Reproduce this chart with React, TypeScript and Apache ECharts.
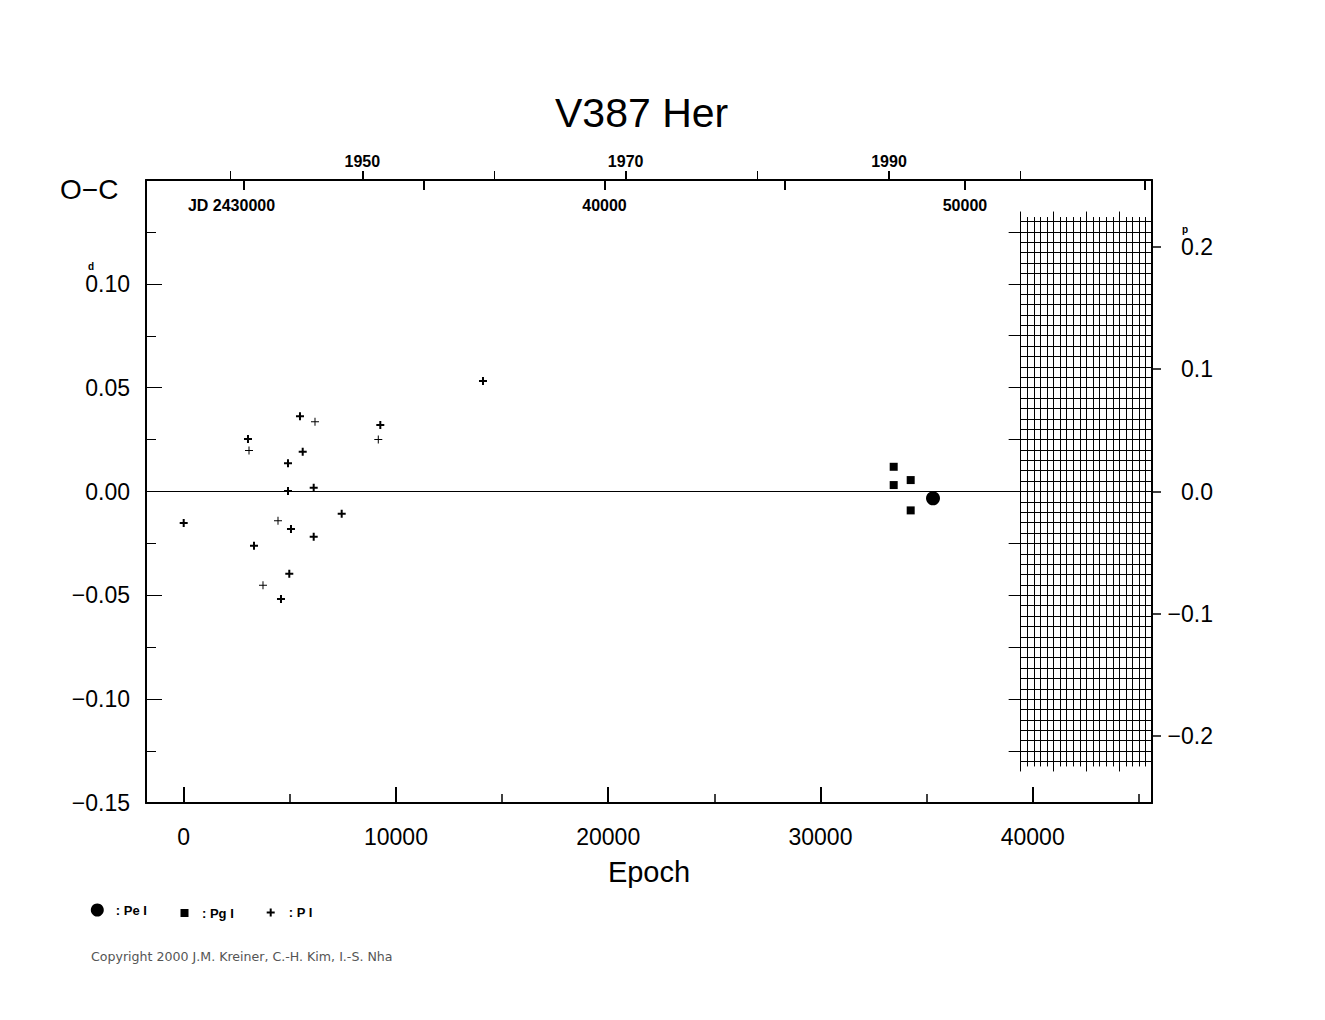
import React, { useEffect, useRef } from 'react';
import * as echarts from 'echarts';

// ---------------- data ----------------
const peEpochs = [35303];
const peOC = [-0.0033];

const pgEpochs = [33451, 33451, 34252, 34252];
const pgOC = [0.0119, 0.0031, 0.0055, -0.0091];

const pBoldEpochs = [0, 3029, 3312, 4584, 4914, 4914, 5055, 4975, 5479, 5607, 6125, 6125, 7444, 9263, 14101];
const pBoldOC = [-0.0152, 0.0253, -0.0261, -0.0518, 0.0136, 0.0003, -0.0181, -0.0396, 0.0362, 0.0192, 0.0018, -0.0218, -0.0107, 0.032, 0.0532];

const pThinEpochs = [3077, 3736, 4443, 6186, 9168];
const pThinOC = [0.0198, -0.0452, -0.0141, 0.0336, 0.0251];

// tick / label values
const epochMajor = [0, 10000, 20000, 30000, 40000];
const epochMinor = [5000, 15000, 25000, 35000, 45000];
const ocLabels = [-0.15, -0.1, -0.05, 0, 0.05, 0.1];
const jdTicks = [30000, 35000, 40000, 45000, 50000, 55000];
const jdLabels = [30000, 40000, 50000];
const yearMajor = [1950, 1970, 1990];
const yearMinor = [1940, 1960, 1980, 2000];
const phaseTicks = [-0.2, -0.1, 0, 0.1, 0.2];
const meshLong = [-0.125, -0.1, -0.075, -0.05, -0.025, 0, 0.025, 0.05, 0.075, 0.1, 0.125];

// ephemeris / axis ranges
const PERIOD = 0.5888; // days
const JD_AT_E0 = 28327; // JD - 2400000 at epoch 0
const EPOCH_MIN = -1776;
const EPOCH_MAX = 45621;
const OC_MIN = -0.15;
const OC_MAX = 0.15;
const MESH_YEAR_START = 2000;
const MESH_YEAR_END = 2010;
const MESH_OC = 0.13;

// layout
const GRID = { left: 146, top: 180, width: 1006, height: 623 };
const FONT = "'Liberation Sans', Arial, sans-serif";

const toJD = (e: number) => JD_AT_E0 + e * PERIOD;
const toYear = (jd: number) => 2000 + (jd - 51545) / 365.25;
const yearToEpoch = (y: number) => ((y - 2000) * 365.25 + 51545 - JD_AT_E0) / PERIOD;
const xPx = (e: number) => GRID.left + ((e - EPOCH_MIN) / (EPOCH_MAX - EPOCH_MIN)) * GRID.width;
const yPx = (v: number) => GRID.top + ((OC_MAX - v) / (OC_MAX - OC_MIN)) * GRID.height;

const fmt = (v: number, d: number) => {
  const a = Math.abs(v) < 1e-9 ? 0 : v;
  const s = Math.abs(a).toFixed(d);
  return a < 0 ? '\u2212' + s : s;
};

const BLACK = '#000';
const PLUS_BOLD = 'path://M3,0H5V3H8V5H5V8H3V5H0V3H3Z';
const PLUS_THIN = 'path://M3.5,0H4.5V3.5H8V4.5H4.5V8H3.5V4.5H0V3.5H3.5Z';
const SQUARE = 'path://M0,0H8V8H0Z';

const meshLeft = xPx(yearToEpoch(MESH_YEAR_START));
const meshRight = xPx(yearToEpoch(MESH_YEAR_END));
const meshTop = yPx(MESH_OC);
const meshBottom = yPx(-MESH_OC);

const hidden = { show: false };
const tickStyle = (w: number) => ({ color: BLACK, width: w });

function buildOption(): any {
  const pairs = (xs: number[], ys: number[]) => xs.map((x, i) => [x, ys[i]]);
  const legendText = (pad: number) => ({
    fontFamily: FONT, fontWeight: 'bold', fontSize: 13, color: BLACK, padding: [0, 0, 0, pad],
  });
  const meshX = (position: string, interval: number, length: number, split: boolean) => ({
    type: 'value',
    gridIndex: 1,
    position,
    min: MESH_YEAR_START,
    max: MESH_YEAR_END,
    interval,
    axisLine: { show: false, onZero: false },
    axisTick: { show: true, inside: false, length, lineStyle: tickStyle(1) },
    axisLabel: hidden,
    splitLine: { show: split, lineStyle: { color: BLACK, width: 1 } },
  });
  const solid = { color: BLACK, opacity: 1 };

  return {
    animation: false,
    backgroundColor: '#fff',
    textStyle: { fontFamily: FONT },
    title: {
      text: 'V387 Her',
      left: 555,
      top: 92,
      padding: 0,
      textStyle: { fontFamily: FONT, fontSize: 41, fontWeight: 'normal', color: BLACK },
    },
    legend: [
      {
        data: [{ name: 'Pe I', icon: 'circle' }],
        left: 90.8, top: 903.5, itemWidth: 13, itemHeight: 13, padding: 0,
        selectedMode: false, formatter: ': {name}', textStyle: legendText(7),
      },
      {
        data: [{ name: 'Pg I', icon: SQUARE }],
        left: 180.5, top: 906.5, itemWidth: 8, itemHeight: 8, padding: 0,
        selectedMode: false, formatter: ': {name}', textStyle: legendText(8.5),
      },
      {
        data: [{ name: 'P I', icon: PLUS_BOLD }],
        left: 266.7, top: 906, itemWidth: 8, itemHeight: 8, padding: 0,
        selectedMode: false, formatter: ': {name}', textStyle: legendText(9),
      },
    ],
    grid: [
      { left: GRID.left, top: GRID.top, width: GRID.width, height: GRID.height, containLabel: false },
      { left: meshLeft, top: meshTop, width: meshRight - meshLeft, height: meshBottom - meshTop, containLabel: false },
    ],
    xAxis: [
      {
        type: 'value', gridIndex: 0, position: 'bottom', min: EPOCH_MIN, max: EPOCH_MAX,
        axisLine: { show: true, onZero: false, lineStyle: { color: BLACK, width: 2 } },
        axisTick: { show: true, inside: true, length: 16, customValues: epochMajor, lineStyle: tickStyle(2) },
        axisLabel: {
          show: true, customValues: epochMajor, margin: 22, fontFamily: FONT, fontSize: 23, color: BLACK,
          formatter: (v: number) => String(v),
        },
        splitLine: hidden,
        name: 'Epoch', nameLocation: 'middle', nameGap: 54,
        nameTextStyle: { fontFamily: FONT, fontSize: 29, color: BLACK },
      },
      {
        type: 'value', gridIndex: 0, position: 'bottom', min: EPOCH_MIN, max: EPOCH_MAX,
        axisLine: { show: false, onZero: false },
        axisTick: { show: true, inside: true, length: 9, customValues: epochMinor, lineStyle: tickStyle(1.5) },
        axisLabel: hidden, splitLine: hidden,
      },
      {
        type: 'value', gridIndex: 0, position: 'top', min: toJD(EPOCH_MIN), max: toJD(EPOCH_MAX),
        axisLine: { show: true, onZero: false, lineStyle: { color: BLACK, width: 2 } },
        axisTick: { show: true, inside: true, length: 10, customValues: jdTicks, lineStyle: tickStyle(2) },
        axisLabel: {
          show: true, inside: true, customValues: jdLabels, margin: 17,
          fontFamily: FONT, fontSize: 16, fontWeight: 'bold', color: BLACK,
          formatter: (v: number) => (v === 30000 ? '{a|JD 2430000}' : String(v)),
          rich: { a: { fontFamily: FONT, fontSize: 16, fontWeight: 'bold', color: BLACK, padding: [0, 25, 0, 0] } },
        },
        splitLine: hidden,
      },
      {
        type: 'value', gridIndex: 0, position: 'top',
        min: toYear(toJD(EPOCH_MIN)), max: toYear(toJD(EPOCH_MAX)),
        axisLine: { show: false, onZero: false },
        axisTick: { show: true, inside: false, length: 9, customValues: yearMajor, lineStyle: tickStyle(2) },
        axisLabel: {
          show: true, customValues: yearMajor, margin: 11, fontFamily: FONT, fontSize: 16, fontWeight: 'bold', color: BLACK,
          formatter: (v: number) => String(v),
        },
        splitLine: hidden,
      },
      {
        type: 'value', gridIndex: 0, position: 'top',
        min: toYear(toJD(EPOCH_MIN)), max: toYear(toJD(EPOCH_MAX)),
        axisLine: { show: false, onZero: false },
        axisTick: { show: true, inside: false, length: 9, customValues: yearMinor, lineStyle: tickStyle(1) },
        axisLabel: hidden, splitLine: hidden,
      },
      meshX('top', 0.5, 4.5, true),
      meshX('top', 2.5, 10, false),
      meshX('bottom', 0.5, 5, false),
      meshX('bottom', 2.5, 10, false),
    ],
    yAxis: [
      {
        type: 'value', gridIndex: 0, position: 'left', min: OC_MIN, max: OC_MAX, interval: 0.05,
        axisLine: { show: true, onZero: false, lineStyle: { color: BLACK, width: 2 } },
        axisTick: { show: true, inside: true, length: 16, lineStyle: tickStyle(1) },
        minorTick: { show: true, splitNumber: 2, length: 10, lineStyle: tickStyle(1) },
        axisLabel: {
          customValues: ocLabels, margin: 16, fontFamily: FONT, fontSize: 23, color: BLACK,
          formatter: (v: number) => fmt(v, 2),
        },
        splitLine: hidden, minorSplitLine: hidden,
      },
      {
        type: 'value', gridIndex: 0, position: 'right', min: OC_MIN / PERIOD, max: OC_MAX / PERIOD,
        axisLine: { show: true, onZero: false, lineStyle: { color: BLACK, width: 2 } },
        axisTick: { show: true, inside: false, length: 9, customValues: phaseTicks, lineStyle: tickStyle(1.5) },
        axisLabel: {
          show: true, customValues: phaseTicks, align: 'right', margin: 61,
          fontFamily: FONT, fontSize: 23, color: BLACK, formatter: (v: number) => fmt(v, 1),
        },
        splitLine: hidden,
      },
      {
        type: 'value', gridIndex: 1, position: 'left', min: -MESH_OC, max: MESH_OC, interval: 0.005,
        axisLine: { show: false, onZero: false },
        axisTick: hidden, axisLabel: hidden,
        splitLine: { show: true, lineStyle: { color: BLACK, width: 1 } },
      },
      {
        type: 'value', gridIndex: 1, position: 'left', min: -MESH_OC, max: MESH_OC,
        axisLine: { show: false, onZero: false },
        axisTick: { show: true, inside: false, length: 12, customValues: meshLong, lineStyle: tickStyle(1) },
        axisLabel: hidden, splitLine: hidden,
      },
    ],
    series: [
      {
        name: 'Pe I', type: 'scatter', xAxisIndex: 0, yAxisIndex: 0,
        symbol: 'circle', symbolSize: 14, itemStyle: solid,
        data: pairs(peEpochs, peOC),
        markLine: {
          silent: true, symbol: 'none', label: { show: false },
          lineStyle: { color: BLACK, width: 1, type: 'solid', opacity: 1 },
          data: [{ yAxis: 0 }],
        },
      },
      {
        name: 'Pg I', type: 'scatter', xAxisIndex: 0, yAxisIndex: 0,
        symbol: 'rect', symbolSize: 8, itemStyle: solid,
        data: pairs(pgEpochs, pgOC),
      },
      {
        name: 'P I', type: 'scatter', xAxisIndex: 0, yAxisIndex: 0,
        symbol: PLUS_BOLD, symbolSize: 8, itemStyle: solid,
        data: pairs(pBoldEpochs, pBoldOC),
      },
      {
        name: 'P I', type: 'scatter', xAxisIndex: 0, yAxisIndex: 0,
        symbol: PLUS_THIN, symbolSize: 8, itemStyle: solid,
        data: pairs(pThinEpochs, pThinOC),
      },
    ],
    graphic: [
      {
        type: 'text', left: 60, top: 175,
        style: { text: 'O\u2212C', fontFamily: FONT, fontSize: 28, fill: BLACK },
      },
      {
        type: 'text', x: 91, y: 266,
        style: { text: 'd', fontFamily: FONT, fontSize: 10, fontWeight: 'bold', fill: BLACK, align: 'center', verticalAlign: 'middle' },
      },
      {
        type: 'text', x: 1185, y: 229,
        style: { text: 'p', fontFamily: FONT, fontSize: 10, fontWeight: 'bold', fill: BLACK, align: 'center', verticalAlign: 'middle' },
      },
      {
        type: 'text', x: 91, y: 956,
        style: {
          text: 'Copyright 2000 J.M. Kreiner, C.-H. Kim, I.-S. Nha',
          fontFamily: "'DejaVu Sans', Verdana, sans-serif", fontSize: 12.6, fill: '#555',
          align: 'left', verticalAlign: 'middle',
        },
      },
    ],
  };
}

export default function App() {
  const ref = useRef<HTMLDivElement>(null);
  useEffect(() => {
    if (!ref.current) return;
    const chart = echarts.init(ref.current, null, { renderer: 'svg' });
    chart.setOption(buildOption());
    return () => chart.dispose();
  }, []);
  return (
    <div
      ref={ref}
      style={{ position: 'absolute', left: 0, top: 0, width: 1325, height: 1020, background: '#fff' }}
    />
  );
}
